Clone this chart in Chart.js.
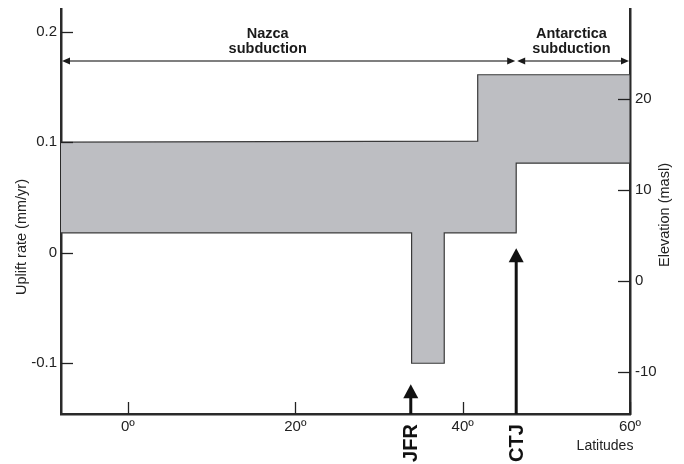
<!DOCTYPE html>
<html>
<head>
<meta charset="utf-8">
<script src="https://cdn.jsdelivr.net/npm/chart.js@4.4.1/dist/chart.umd.min.js"></script>
<style>
html, body { margin: 0; padding: 0; background: #fff; }
#wrap { width: 684px; height: 464px; position: relative; }
</style>
</head>
<body>
<div id="wrap"><canvas id="upliftChart"></canvas></div>
<script>
// band limits (uplift rate, mm/yr) along latitude
const upperLat = [-8, 41.8, 41.8, 60];
const upperRate = [0.1, 0.101, 0.161, 0.161];
const lowerLat = [-8, 33.9, 33.9, 37.8, 37.8, 46.4, 46.4, 60];
const lowerRate = [0.018, 0.018, -0.1, -0.1, 0.018, 0.018, 0.081, 0.081];

const latTicks = [0, 20, 40, 60];
const latTickLabels = ['0º', '20º', '40º', '60º'];
const rateTicks = [-0.1, 0, 0.1, 0.2];
const rateTickLabels = ['-0.1', '0', '0.1', '0.2'];
const elevTicks = [-10, 0, 10, 20];
const elevTickLabels = ['-10', '0', '10', '20'];

const zoneNames = [['Nazca', 'subduction'], ['Antarctica', 'subduction']];
const zoneFrom = [-8, 46.4];
const zoneTo = [46.4, 60];
const zoneLabelLat = [16.7, 53.0];
const zoneArrowRate = 0.1735;

const markerNames = ['JFR', 'CTJ'];
const markerLat = [33.8, 46.4];
const markerTipRate = [-0.119, 0.004];

const FONT = '"Liberation Sans", Arial, Helvetica, sans-serif';

// closed outline: upper edge left->right, lower edge right->left
const band = upperLat.map((v, i) => ({ x: v, y: upperRate[i] }))
  .concat(lowerLat.map((v, i) => ({ x: v, y: lowerRate[i] })).reverse());

function seg(ctx, x1, y1, x2, y2) {
  ctx.beginPath();
  ctx.moveTo(x1, y1);
  ctx.lineTo(x2, y2);
  ctx.stroke();
}

function head(ctx, tx, ty, dir, len, half) {
  // dir: 'left', 'right', 'up'
  ctx.beginPath();
  ctx.moveTo(tx, ty);
  if (dir === 'left') { ctx.lineTo(tx + len, ty - half); ctx.lineTo(tx + len, ty + half); }
  if (dir === 'right') { ctx.lineTo(tx - len, ty - half); ctx.lineTo(tx - len, ty + half); }
  if (dir === 'up') { ctx.lineTo(tx - half, ty + len); ctx.lineTo(tx + half, ty + len); }
  ctx.closePath();
  ctx.fill();
}

function noPad(s) {
  s.paddingTop = 0;
  s.paddingBottom = 0;
  s.paddingLeft = 0;
  s.paddingRight = 0;
}

const extras = {
  id: 'extras',
  afterDatasetsDraw(chart) {
    const { ctx, chartArea, scales } = chart;
    const x = scales.x, y = scales.y, y2 = scales.y2;
    ctx.save();

    // inward tick marks
    ctx.strokeStyle = '#222';
    ctx.lineWidth = 1.3;
    latTicks.forEach(v => {
      const px = Math.round(x.getPixelForValue(v)) + 0.5;
      seg(ctx, px, chartArea.bottom, px, chartArea.bottom - 12);
    });
    rateTicks.forEach(v => {
      const py = Math.round(y.getPixelForValue(v)) + 0.5;
      seg(ctx, chartArea.left, py, chartArea.left + 12, py);
    });
    elevTicks.forEach(v => {
      const py = Math.round(y2.getPixelForValue(v)) + 0.5;
      seg(ctx, chartArea.right, py, chartArea.right - 12, py);
    });

    // subduction zones
    const ay = y.getPixelForValue(zoneArrowRate);
    zoneNames.forEach((names, i) => {
      const x1 = x.getPixelForValue(zoneFrom[i]) + 1;
      const x2 = x.getPixelForValue(zoneTo[i]) - 1;
      ctx.strokeStyle = '#555';
      ctx.lineWidth = 1.5;
      seg(ctx, x1 + 4, ay, x2 - 4, ay);
      ctx.fillStyle = '#1a1a1a';
      head(ctx, x1, ay, 'left', 8, 3.5);
      head(ctx, x2, ay, 'right', 8, 3.5);
      ctx.font = 'bold 14.5px ' + FONT;
      ctx.textAlign = 'center';
      ctx.textBaseline = 'alphabetic';
      const lx = x.getPixelForValue(zoneLabelLat[i]);
      ctx.fillText(names[0], lx, ay - 23);
      ctx.fillText(names[1], lx, ay - 8);
    });

    // JFR / CTJ markers
    markerNames.forEach((name, i) => {
      const mx = x.getPixelForValue(markerLat[i]);
      const tip = y.getPixelForValue(markerTipRate[i]);
      ctx.strokeStyle = '#111';
      ctx.fillStyle = '#111';
      ctx.lineWidth = 3;
      seg(ctx, mx, chartArea.bottom, mx, tip + 12);
      head(ctx, mx, tip, 'up', 14, 7.5);
      ctx.save();
      ctx.translate(mx, chartArea.bottom + 29);
      ctx.rotate(-Math.PI / 2);
      ctx.font = 'bold 20px ' + FONT;
      ctx.textAlign = 'center';
      ctx.textBaseline = 'middle';
      ctx.fillText(name, 0, 1);
      ctx.restore();
    });

    // axis titles
    ctx.fillStyle = '#222';
    ctx.font = '14.5px ' + FONT;
    ctx.textAlign = 'center';
    ctx.textBaseline = 'middle';
    ctx.save();
    ctx.translate(chartArea.left - 39, 237);
    ctx.rotate(-Math.PI / 2);
    ctx.fillText('Uplift rate (mm/yr)', 0, 0);
    ctx.restore();
    ctx.save();
    ctx.translate(chartArea.right + 35, 215);
    ctx.rotate(-Math.PI / 2);
    ctx.fillText('Elevation (masl)', 0, 0);
    ctx.restore();
    ctx.font = '14px ' + FONT;
    ctx.textBaseline = 'alphabetic';
    ctx.fillText('Latitudes', chartArea.right - 25, chartArea.bottom + 36);

    ctx.restore();
  }
};

new Chart(document.getElementById('upliftChart'), {
  type: 'line',
  data: {
    datasets: [{
      data: band,
      fill: 'shape',
      backgroundColor: '#bdbec2',
      borderColor: '#3a3a3a',
      borderWidth: 1.2,
      pointRadius: 0,
      tension: 0
    }]
  },
  options: {
    responsive: true,
    maintainAspectRatio: false,
    animation: false,
    layout: { padding: { top: 9, left: 0, right: 0, bottom: 0 } },
    plugins: { legend: { display: false }, tooltip: { enabled: false } },
    scales: {
      x: {
        type: 'linear',
        position: 'bottom',
        min: -8,
        max: 60,
        afterBuildTicks: s => { s.ticks = latTicks.map(v => ({ value: v })); },
        afterFit: s => { s.height = 50; noPad(s); },
        grid: { display: false, drawTicks: false },
        border: { display: true, width: 2.5, color: '#2a2a2a' },
        ticks: {
          padding: 4,
          color: '#222',
          font: { family: FONT, size: 15 },
          callback: (v) => latTickLabels[latTicks.indexOf(v)]
        }
      },
      y: {
        type: 'linear',
        position: 'left',
        min: -0.1459,
        max: 0.2205,
        afterBuildTicks: s => { s.ticks = rateTicks.map(v => ({ value: v })); },
        afterFit: s => { s.width = 61; noPad(s); },
        grid: { display: false, drawTicks: false },
        border: { display: true, width: 2.5, color: '#2a2a2a' },
        ticks: {
          padding: 4,
          color: '#222',
          font: { family: FONT, size: 15 },
          callback: (v) => rateTickLabels[rateTicks.indexOf(v)]
        }
      },
      y2: {
        type: 'linear',
        position: 'right',
        min: -14.63,
        max: 29.83,
        afterBuildTicks: s => { s.ticks = elevTicks.map(v => ({ value: v })); },
        afterFit: s => { s.width = 54; noPad(s); },
        grid: { display: false, drawTicks: false },
        border: { display: true, width: 2.5, color: '#2a2a2a' },
        ticks: {
          padding: 5,
          color: '#222',
          font: { family: FONT, size: 15 },
          callback: (v) => elevTickLabels[elevTicks.indexOf(v)]
        }
      }
    }
  },
  plugins: [extras]
});
</script>
</body>
</html>
